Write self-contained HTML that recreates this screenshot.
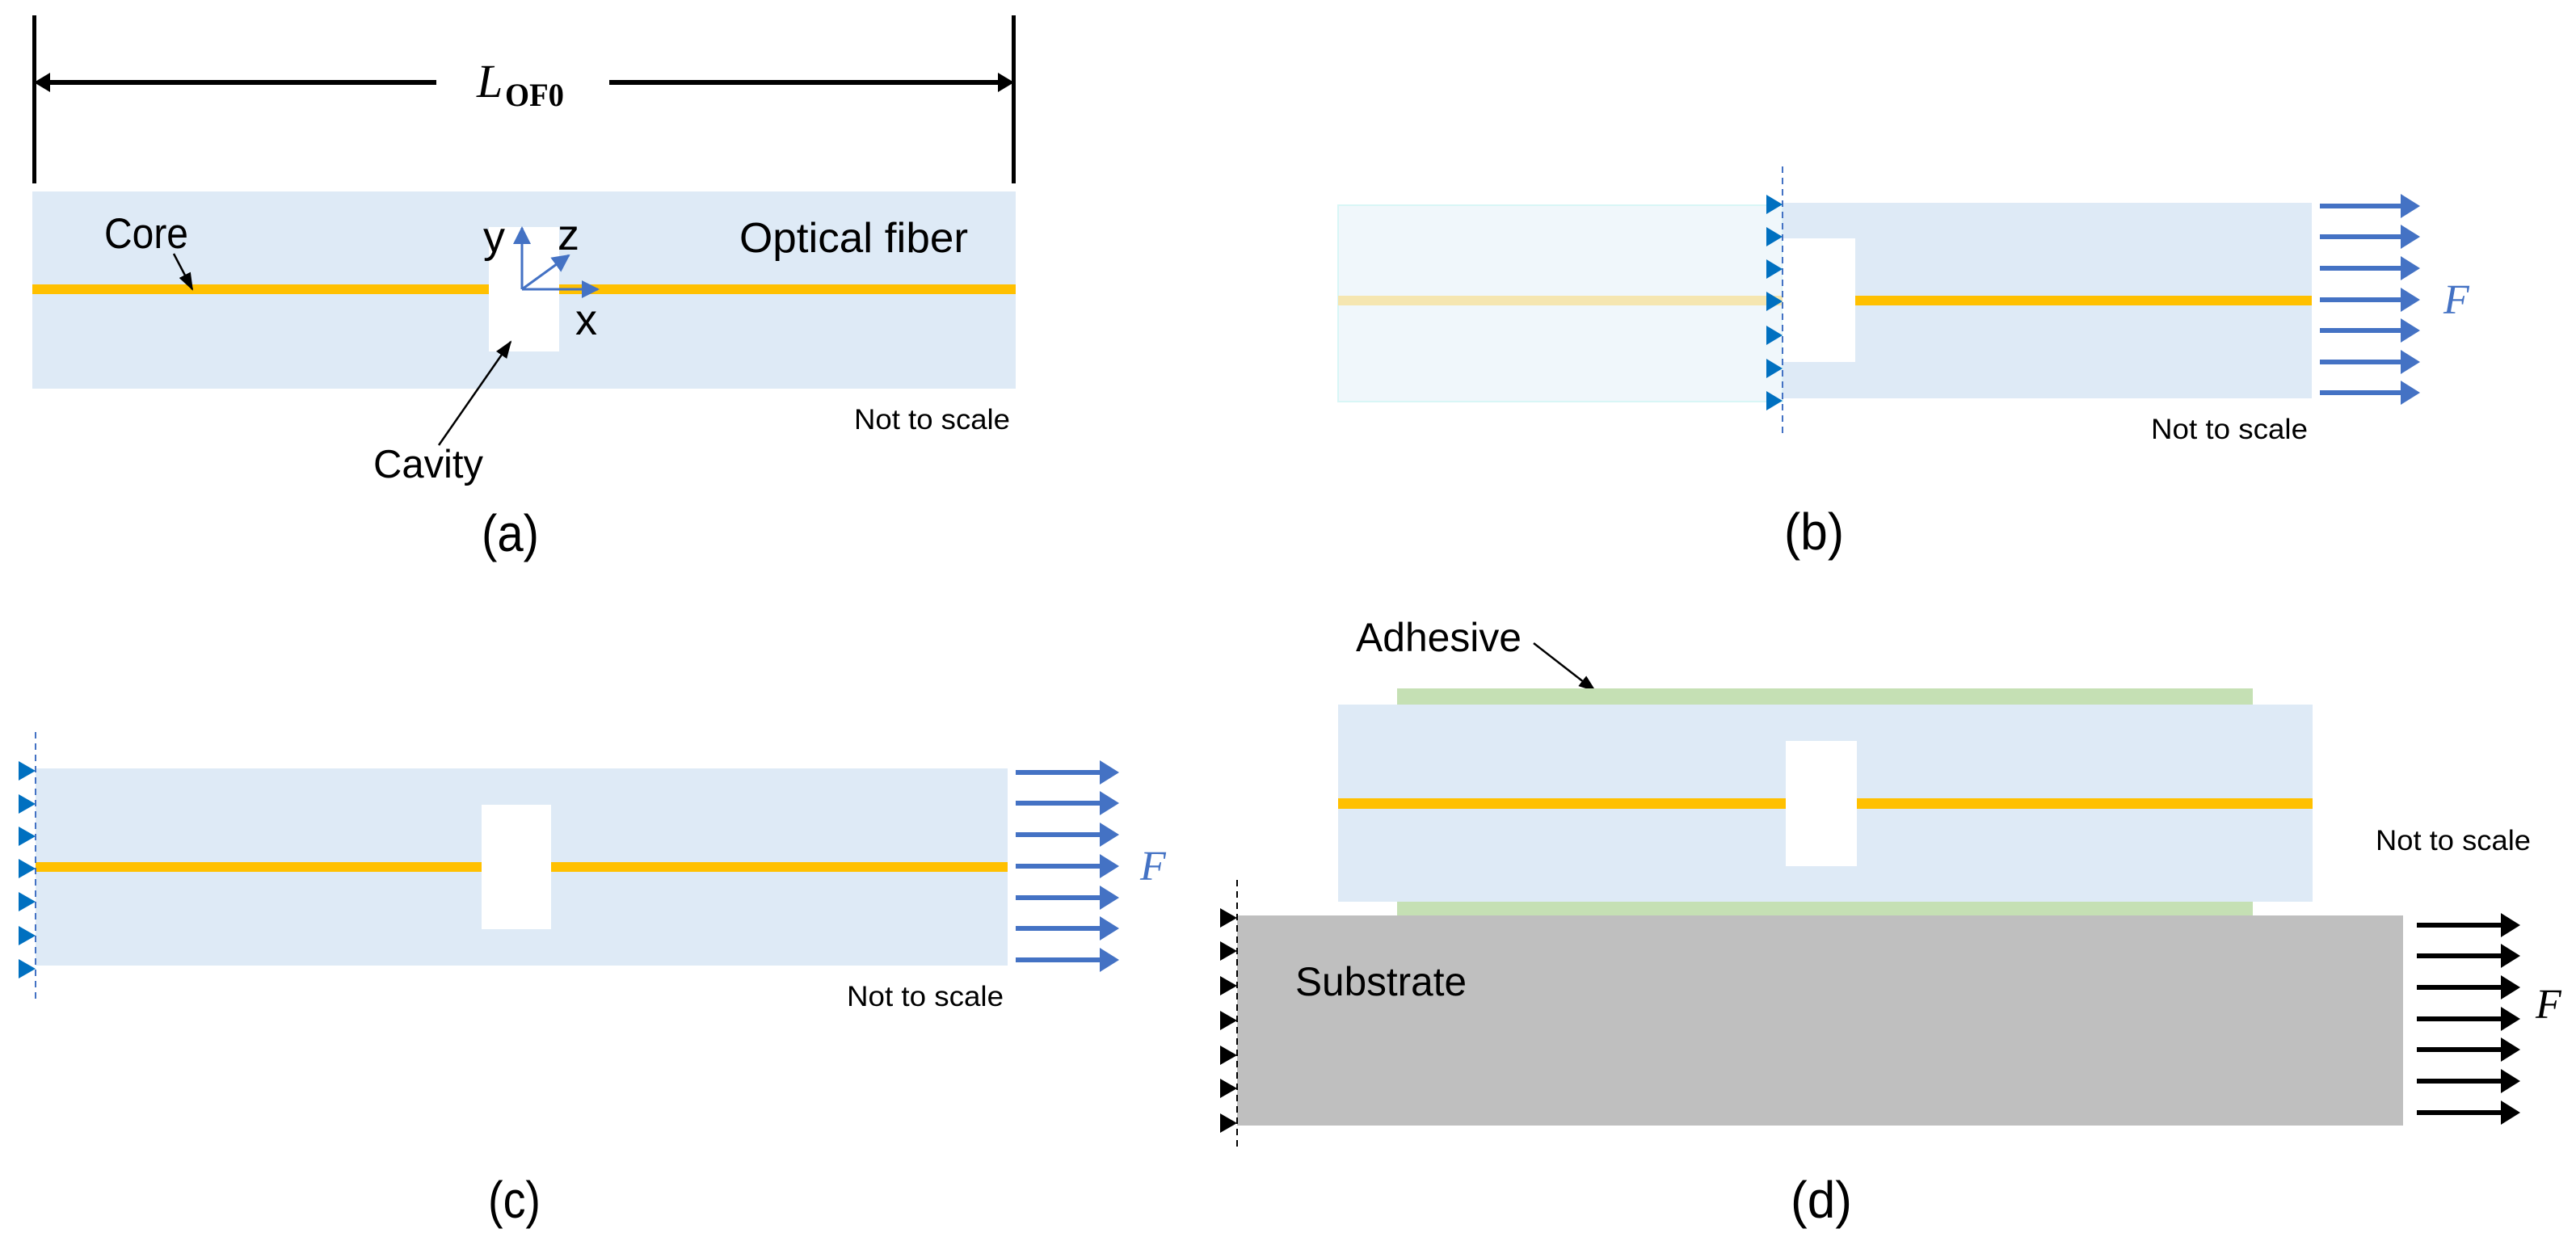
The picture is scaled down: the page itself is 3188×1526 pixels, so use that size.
<!DOCTYPE html>
<html><head><meta charset="utf-8"><style>
html,body{margin:0;padding:0;background:#fff;}
svg{display:block;}
text{font-family:"Liberation Sans",sans-serif;fill:#000;}
.s{font-family:"Liberation Serif",serif;font-style:italic;}
</style></head><body>
<svg width="3188" height="1526" viewBox="0 0 3188 1526" xmlns="http://www.w3.org/2000/svg">
<defs>
<marker id="ak" markerWidth="22" markerHeight="16" refX="20" refY="8" orient="auto" markerUnits="userSpaceOnUse" viewBox="0 0 22 16"><path d="M0,0 L22,8 L0,16 z" fill="#000"/></marker>
<marker id="ab" markerWidth="22" markerHeight="22" refX="20" refY="11" orient="auto" markerUnits="userSpaceOnUse" viewBox="0 0 22 22"><path d="M0,0 L22,11 L0,22 z" fill="#4472c4"/></marker>
</defs>

<!-- (a) -->
<rect x="40" y="19" width="5" height="208" fill="#000"/>
<rect x="1252" y="19" width="5" height="208" fill="#000"/>
<rect x="48" y="99" width="492" height="6" fill="#000"/>
<rect x="754" y="99" width="490" height="6" fill="#000"/>
<path d="M42,102 L62,90 L62,114 z" fill="#000"/>
<path d="M1255,102 L1235,90 L1235,114 z" fill="#000"/>
<text x="590" y="120" class="s" font-size="58">L</text>
<text x="625" y="131" font-weight="bold" font-size="40" textLength="73" lengthAdjust="spacingAndGlyphs" style="font-family:'Liberation Serif',serif">OF0</text>

<rect x="40" y="237" width="1217" height="244" fill="#deeaf6"/>
<rect x="40" y="352" width="1217" height="12" fill="#ffc000"/>
<rect x="605" y="281" width="87" height="154" fill="#fff"/>
<line x1="646" y1="358" x2="646" y2="282" stroke="#4472c4" stroke-width="3" marker-end="url(#ab)"/>
<line x1="646" y1="358" x2="740" y2="358" stroke="#4472c4" stroke-width="3" marker-end="url(#ab)"/>
<line x1="646" y1="358" x2="704" y2="316" stroke="#4472c4" stroke-width="3" marker-end="url(#ab)"/>
<text x="598" y="312" font-size="54">y</text>
<text x="690" y="309" font-size="54">z</text>
<text x="712" y="414" font-size="54">x</text>
<text x="129" y="307" font-size="53" textLength="104" lengthAdjust="spacingAndGlyphs">Core</text>
<line x1="215" y1="314" x2="238" y2="358" stroke="#000" stroke-width="2.5" marker-end="url(#ak)"/>
<text x="915" y="312" font-size="52" textLength="283" lengthAdjust="spacingAndGlyphs">Optical fiber</text>
<text x="1057" y="531" font-size="35" textLength="193" lengthAdjust="spacingAndGlyphs">Not to scale</text>
<text x="462" y="591" font-size="49" textLength="136" lengthAdjust="spacingAndGlyphs">Cavity</text>
<line x1="543" y1="551" x2="632" y2="423" stroke="#000" stroke-width="2.5" marker-end="url(#ak)"/>
<text x="596" y="682" font-size="64" textLength="71" lengthAdjust="spacingAndGlyphs">(a)</text>

<!-- (b) -->
<rect x="1656" y="254" width="550" height="243" fill="#f0f7fb" stroke="#d8f6f6" stroke-width="2"/>
<rect x="1656" y="366" width="550" height="12" fill="#f5e6b0"/>
<rect x="2206" y="251" width="655" height="242" fill="#deeaf6"/>
<rect x="2206" y="295" width="90" height="153" fill="#fff"/>
<rect x="2296" y="366" width="565" height="12" fill="#ffc000"/>
<line x1="2206" y1="206" x2="2206" y2="538" stroke="#4472c4" stroke-width="2" stroke-dasharray="8,6"/>
<g fill="#0070c0">
<path d="M2186,241 L2206,253 L2186,265 z"/><path d="M2186,281 L2206,293 L2186,305 z"/><path d="M2186,321 L2206,333 L2186,345 z"/><path d="M2186,361 L2206,373 L2186,385 z"/><path d="M2186,403 L2206,415 L2186,427 z"/><path d="M2186,444 L2206,456 L2186,468 z"/><path d="M2186,484 L2206,496 L2186,508 z"/>
</g>
<g fill="#4472c4">
<path id="ba" d="M2871,252 h100 v-12 l24,15 l-24,15 v-12 h-100 z"/>
<use href="#ba" y="38"/><use href="#ba" y="77"/><use href="#ba" y="116"/><use href="#ba" y="154"/><use href="#ba" y="193"/><use href="#ba" y="231"/>
</g>
<text x="3024" y="388" class="s" font-size="52" style="fill:#4472c4">F</text>
<text x="2662" y="543" font-size="35" textLength="194" lengthAdjust="spacingAndGlyphs">Not to scale</text>
<text x="2208" y="680" font-size="64" textLength="74" lengthAdjust="spacingAndGlyphs">(b)</text>

<!-- (c) -->
<rect x="44" y="951" width="1203" height="244" fill="#deeaf6"/>
<rect x="44" y="1067" width="1203" height="12" fill="#ffc000"/>
<rect x="596" y="996" width="86" height="154" fill="#fff"/>
<line x1="44" y1="906" x2="44" y2="1240" stroke="#4472c4" stroke-width="2" stroke-dasharray="8,6"/>
<g fill="#0070c0">
<path d="M23,942 L44,954 L23,966 z"/><path d="M23,983 L44,995 L23,1007 z"/><path d="M23,1023 L44,1035 L23,1047 z"/><path d="M23,1063 L44,1075 L23,1087 z"/><path d="M23,1104 L44,1116 L23,1128 z"/><path d="M23,1146 L44,1158 L23,1170 z"/><path d="M23,1187 L44,1199 L23,1211 z"/>
</g>
<g fill="#4472c4">
<path id="ca" d="M1257,953 h104 v-12 l24,15 l-24,15 v-12 h-104 z"/>
<use href="#ca" y="38"/><use href="#ca" y="77"/><use href="#ca" y="116"/><use href="#ca" y="155"/><use href="#ca" y="193"/><use href="#ca" y="232"/>
</g>
<text x="1411" y="1089" class="s" font-size="52" style="fill:#4472c4">F</text>
<text x="1048" y="1245" font-size="35" textLength="194" lengthAdjust="spacingAndGlyphs">Not to scale</text>
<text x="604" y="1507" font-size="64" textLength="65" lengthAdjust="spacingAndGlyphs">(c)</text>

<!-- (d) -->
<text x="1678" y="806" font-size="50" textLength="205" lengthAdjust="spacingAndGlyphs">Adhesive</text>
<line x1="1898" y1="796" x2="1974" y2="855" stroke="#000" stroke-width="2.5" marker-end="url(#ak)"/>
<rect x="1729" y="852" width="1059" height="20" fill="#c5e0b4"/>
<rect x="1656" y="872" width="1206" height="244" fill="#deeaf6"/>
<rect x="1656" y="988" width="1206" height="13" fill="#ffc000"/>
<rect x="2210" y="917" width="88" height="155" fill="#fff"/>
<rect x="1729" y="1116" width="1059" height="17" fill="#c5e0b4"/>
<rect x="1531" y="1133" width="1443" height="260" fill="#bfbfbf"/>
<line x1="1531" y1="1089" x2="1531" y2="1421" stroke="#000" stroke-width="2" stroke-dasharray="8,6"/>
<g fill="#000">
<path d="M1510,1124 L1531,1136 L1510,1148 z"/><path d="M1510,1165 L1531,1177 L1510,1189 z"/><path d="M1510,1208 L1531,1220 L1510,1232 z"/><path d="M1510,1251 L1531,1263 L1510,1275 z"/><path d="M1510,1294 L1531,1306 L1510,1318 z"/><path d="M1510,1335 L1531,1347 L1510,1359 z"/><path d="M1510,1378 L1531,1390 L1510,1402 z"/>
</g>
<g fill="#000">
<path id="da" d="M2991,1142 h104 v-12 l24,15 l-24,15 v-12 h-104 z"/>
<use href="#da" y="38"/><use href="#da" y="77"/><use href="#da" y="116"/><use href="#da" y="154"/><use href="#da" y="193"/><use href="#da" y="232"/>
</g>
<text x="3138" y="1260" class="s" font-size="52">F</text>
<text x="1603" y="1232" font-size="50" textLength="212" lengthAdjust="spacingAndGlyphs">Substrate</text>
<text x="2940" y="1052" font-size="35" textLength="192" lengthAdjust="spacingAndGlyphs">Not to scale</text>
<text x="2216" y="1507" font-size="64" textLength="76" lengthAdjust="spacingAndGlyphs">(d)</text>
</svg>
</body></html>
